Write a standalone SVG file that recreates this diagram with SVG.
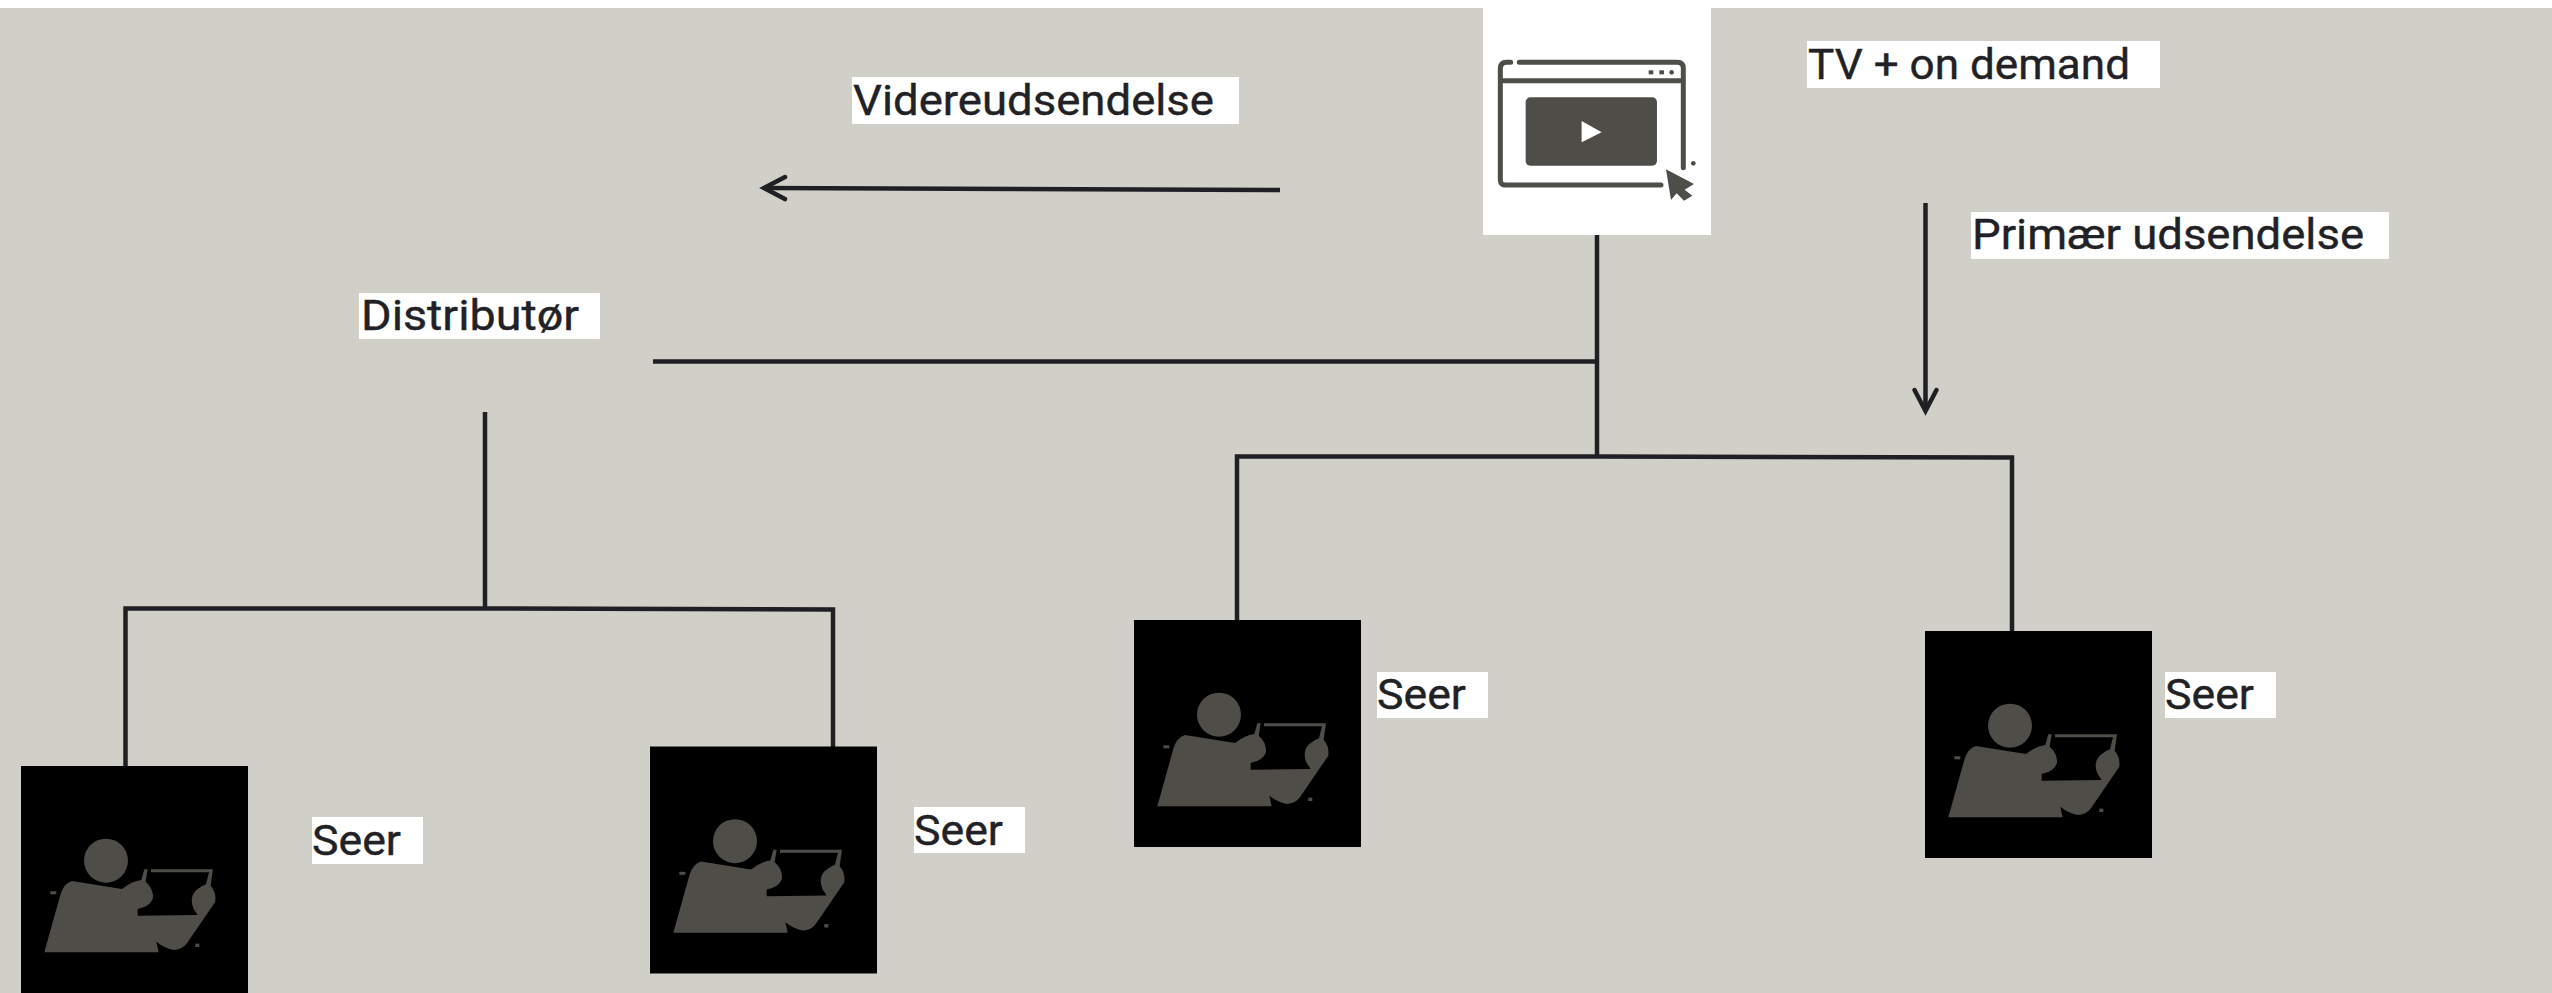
<svg xmlns="http://www.w3.org/2000/svg" width="2552" height="993" viewBox="0 0 2552 993">
<style>
.lb{fill:#fff}
.t{font-family:Roboto,"Liberation Sans",sans-serif;font-size:43px;font-weight:400;fill:#222226;stroke:#222226;stroke-width:.4px}
.c{fill:none;stroke:#1f1f24;stroke-width:4.500}
.ic{fill:#4e4d48}
.is{fill:none;stroke:#4e4d48;stroke-width:4;stroke-linecap:round}
</style>
<defs>
<marker id="arr" markerUnits="userSpaceOnUse" markerWidth="30" markerHeight="30" refX="22" refY="12" orient="auto" overflow="visible">
<path d="M1 1L22 12L1 23" fill="none" stroke="#1f1f24" stroke-width="4.500" stroke-linecap="round"/>
</marker>
<g id="viewer">
<rect width="227" height="227" fill="#000"/>
<g transform="scale(.3333) translate(-42 -33)" class="ic">
<circle cx="297" cy="317" r="66"/>
<path d="M112 592L160 420Q170 385 195 378L345 402Q375 378 403 375L412 343H422L416 380Q440 400 438 430Q430 455 392 462V482L572 480L560 462Q546 430 565 408Q585 392 597 388L606 352H432V343H618L611 392Q628 410 625 440L540 565Q525 585 500 585Q470 578 448 560L455 592Z"/>
<rect x="130" y="409" width="18" height="9"/>
<rect x="565" y="566" width="12" height="10"/>
</g>
</g>
</defs>
<rect id="background" width="2552" height="993" fill="#d0d0c8"/>
<rect id="top-strip" width="2552" height="8" fill="#fff"/>
<g id="connectors">
<path class="c" d="M1597 235V457"/>
<path class="c" d="M653 361.500H1597"/>
<path class="c" d="M1237 621V456.500H1597L2012 457.500V631"/>
<path class="c" d="M485 412V609"/>
<path class="c" d="M125.500 767V608.500H485L833 609.500V747"/>
<path class="c" d="M1280 190L764 188" marker-end="url(#arr)"/>
<path class="c" d="M1925.500 203V411" marker-end="url(#arr)"/>
</g>
<g id="source">
<rect x="1483" y="0" width="228" height="235" fill="#fff"/>
<g transform="translate(1460 0) scale(.3333)">
<path class="is" style="stroke-width:15" d="M152 187H140Q121 187 121 206V540Q121 557 140 555H603M178 187H652Q670 187 670 205V503M125 242H665"/>
<rect class="ic" x="197" y="292" width="394" height="205" rx="14"/>
<path d="M365 363L425 397L365 427Z" fill="#fff"/>
<rect class="ic" x="566" y="211" width="14" height="12"/>
<rect class="ic" x="598" y="211" width="14" height="12"/>
<circle class="ic" cx="635" cy="217" r="7"/>
<circle class="ic" cx="700" cy="490" r="7"/>
<path class="ic" d="M618 508L702 552L674 569L697 587L672 602L650 580L633 600Z"/>
</g>
</g>
<g id="label-tv">
<rect class="lb" x="1807" y="41" width="353" height="47"/>
<text class="t" x="1808" y="79" textLength="322" lengthAdjust="spacingAndGlyphs">TV + on demand</text>
</g>
<g id="label-videreudsendelse">
<rect class="lb" x="852" y="77" width="387" height="47"/>
<text class="t" x="853" y="115" textLength="361" lengthAdjust="spacingAndGlyphs">Videreudsendelse</text>
</g>
<g id="label-primaer">
<rect class="lb" x="1971" y="212" width="418" height="47"/>
<text class="t" x="1972" y="249" textLength="392" lengthAdjust="spacingAndGlyphs">Primær udsendelse</text>
</g>
<g id="label-distributor">
<rect class="lb" x="359" y="293" width="241" height="46"/>
<text class="t" x="361" y="330" textLength="218" lengthAdjust="spacingAndGlyphs">Distributør</text>
</g>
<g id="viewer-a">
<use href="#viewer" x="21" y="766"/>
<rect class="lb" x="312" y="817" width="111" height="47"/>
<text class="t" x="312" y="855" textLength="89" lengthAdjust="spacingAndGlyphs">Seer</text>
</g>
<g id="viewer-b">
<use href="#viewer" x="650" y="746.500"/>
<rect class="lb" x="914" y="807" width="111" height="46"/>
<text class="t" x="914" y="845" textLength="89" lengthAdjust="spacingAndGlyphs">Seer</text>
</g>
<g id="viewer-c">
<use href="#viewer" x="1134" y="620"/>
<rect class="lb" x="1377" y="672" width="111" height="46"/>
<text class="t" x="1377" y="709" textLength="89" lengthAdjust="spacingAndGlyphs">Seer</text>
</g>
<g id="viewer-d">
<use href="#viewer" x="1925" y="631"/>
<rect class="lb" x="2165" y="672" width="111" height="46"/>
<text class="t" x="2165" y="709" textLength="89" lengthAdjust="spacingAndGlyphs">Seer</text>
</g>
</svg>
